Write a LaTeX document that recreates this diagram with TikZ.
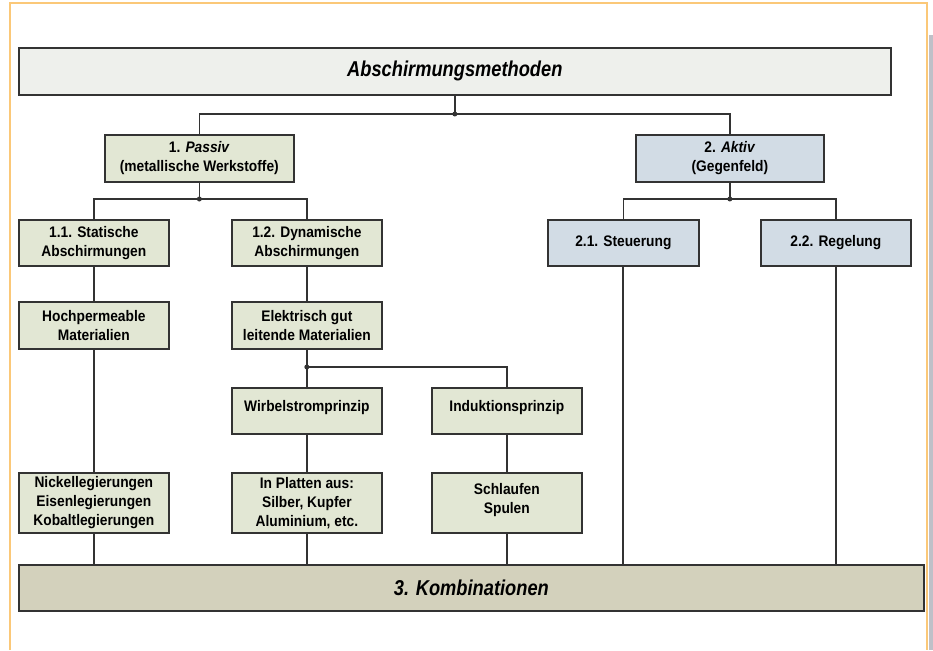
\documentclass[tikz,border=0pt]{standalone}
\usepackage{fontspec}
\setmainfont{Liberation Sans}
\newfontfamily\narrowbox[FakeStretch=0.9]{Liberation Sans}
\newfontfamily\narrowtitle[FakeStretch=0.85]{Liberation Sans}
\definecolor{frameor}{HTML}{FBC878}
\definecolor{boxline}{HTML}{333333}
\definecolor{greenf}{HTML}{E2E7D4}
\definecolor{bluef}{HTML}{D2DCE5}
\definecolor{titlef}{HTML}{EEF0EC}
\definecolor{kombf}{HTML}{D3D1BC}
\definecolor{sidegray}{HTML}{BFC0C8}
\tikzset{
  x=1pt,y=-1pt,
  bx/.style={draw=boxline,line width=1.7pt,align=center,anchor=north west,inner sep=0pt,
    font=\narrowbox\fontsize{15.3}{19}\selectfont\bfseries},
  gbox/.style={bx,fill=greenf},
  bbox/.style={bx,fill=bluef},
  bigbox/.style={bx,font=\narrowtitle\fontsize{21.5}{24}\selectfont\bfseries\itshape},
  conn/.style={draw=boxline,line width=1.6pt},
  dotj/.style={circle,fill=boxline,inner sep=0pt,minimum size=5pt},
}
\begin{document}
\begin{tikzpicture}
\useasboundingbox (0,0) rectangle (933,650);
\fill[white] (0,0) rectangle (933,650);
% frame
\fill[sidegray] (929,35) rectangle (933,650);
\draw[frameor,line width=1.4pt] (10,650) -- (10,3) -- (927,3) -- (927,650);
% boxes
\node[bigbox,fill=titlef,minimum width=872pt,minimum height=47pt] (title) at (18,47) {Abschirmungsmethoden};
\node[gbox,minimum width=189pt,minimum height=47pt] (passiv) at (104,134) {1. \textit{Passiv}\\(metallische Werkstoffe)};
\node[bbox,minimum width=188pt,minimum height=47pt] (aktiv) at (635,134) {2. \textit{Aktiv}\\(Gegenfeld)};
\node[gbox,minimum width=150pt,minimum height=46pt] (stat) at (18,219) {1.1. Statische\\Abschirmungen};
\node[gbox,minimum width=150pt,minimum height=46pt] (dyn) at (231,219) {1.2. Dynamische\\Abschirmungen};
\node[bbox,minimum width=151pt,minimum height=46pt] (steu) at (547,219) {2.1. Steuerung};
\node[bbox,minimum width=150pt,minimum height=46pt] (regel) at (760,219) {2.2. Regelung};
\node[gbox,minimum width=150pt,minimum height=47pt] (hoch) at (18,301) {Hochpermeable\\Materialien};
\node[gbox,minimum width=150pt,minimum height=47pt] (elek) at (231,301) {Elektrisch gut\\leitende Materialien};
\node[gbox,minimum width=150pt,minimum height=46pt,text depth=9pt] (wirb) at (231,387) {Wirbelstromprinzip};
\node[gbox,minimum width=150pt,minimum height=46pt,text depth=9pt] (induk) at (431,387) {Induktionsprinzip};
\node[gbox,minimum width=150pt,minimum height=60pt] (nick) at (18,472) {Nickellegierungen\\Eisenlegierungen\\Kobaltlegierungen};
\node[gbox,minimum width=150pt,minimum height=60pt] (platt) at (231,472) {In Platten aus:\\Silber, Kupfer\\Aluminium, etc.};
\node[gbox,minimum width=150pt,minimum height=60pt,text depth=8pt] (schl) at (431,472) {Schlaufen\\Spulen};
\node[bigbox,fill=kombf,minimum width=905pt,minimum height=46pt] (komb) at (18,564) {3. Kombinationen};
% junctions
\coordinate (j0) at (title.south |- 0,114);
\coordinate (j1) at (passiv.south |- 0,199);
\coordinate (j2) at (aktiv.south |- 0,199);
\coordinate (j3) at (elek.south |- 0,367);
% connectors
\draw[conn] (title.south) -- (j0);
\draw[conn] (passiv.north) |- (j0) -| (aktiv.north);
\draw[conn] (passiv.south) -- (j1);
\draw[conn] (stat.north) |- (j1) -| (dyn.north);
\draw[conn] (aktiv.south) -- (j2);
\draw[conn] (steu.north) |- (j2) -| (regel.north);
\draw[conn] (stat.south) -- (hoch.north);
\draw[conn] (dyn.south) -- (elek.north);
\draw[conn] (elek.south) -- (wirb.north);
\draw[conn] (j3) -| (induk.north);
\draw[conn] (hoch.south) -- (nick.north);
\draw[conn] (wirb.south) -- (platt.north);
\draw[conn] (induk.south) -- (schl.north);
\draw[conn] (nick.south) -- (nick.south |- komb.north);
\draw[conn] (platt.south) -- (platt.south |- komb.north);
\draw[conn] (schl.south) -- (schl.south |- komb.north);
\draw[conn] (steu.south -| 623,0) -- (623,0 |- komb.north);
\draw[conn] (regel.south -| 836,0) -- (836,0 |- komb.north);
\node[dotj] at (j0) {};
\node[dotj] at (j1) {};
\node[dotj] at (j2) {};
\node[dotj] at (j3) {};
\end{tikzpicture}
\end{document}
